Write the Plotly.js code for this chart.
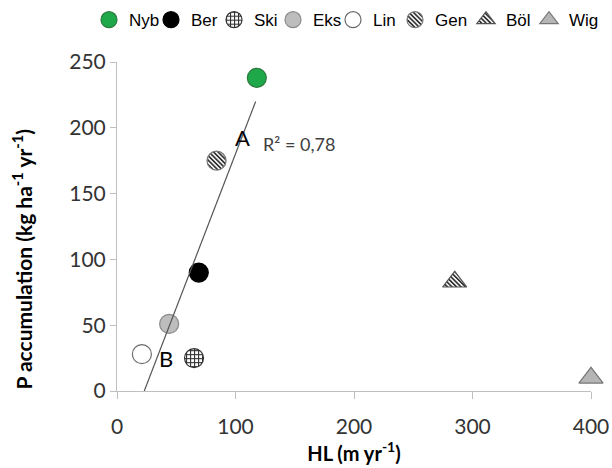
<!DOCTYPE html>
<html>
<head>
<meta charset="utf-8">
<script src="https://cdn.plot.ly/plotly-3.0.1.min.js"></script>
<style>html,body{margin:0;padding:0;background:#fff}#chart{width:612px;height:468px}</style>
</head>
<body>
<div id="chart"></div>
<script>
// Sites
var sites = ["Nyb", "Ber", "Ski", "Eks", "Lin", "Gen", "Böl", "Wig"];
// HL (m yr-1)
var hl = [118, 69, 65, 44, 21, 84, 285, 400];
// P accumulation (kg ha-1 yr-1)
var pAcc = [238, 90, 25, 51, 28, 175, 83, 10];
// Regression line (group A) endpoints
var trendX = [23, 117];
var trendY = [0, 220];
// Text labels
var labelText = ["A", "B", "C"];
var labelX = [106, 41, 411];
var labelY = [193, 25, 25];
var r2Text = "R² = 0,78";
var xTicks = [0, 100, 200, 300, 400];
var yTicks = [0, 50, 100, 150, 200, 250];

var styles = [
  {symbol: "circle", color: "#1fa84a", line: "#2b7a3d", pattern: null},
  {symbol: "circle", color: "#000000", line: "#000000", pattern: null},
  {symbol: "circle", color: "#ffffff", line: "#333333", pattern: "grid"},
  {symbol: "circle", color: "#bdbdbd", line: "#8a8a8a", pattern: null},
  {symbol: "circle", color: "#ffffff", line: "#6a6a6a", pattern: null},
  {symbol: "circle", color: "#ffffff", line: "#777777", pattern: "stripes"},
  {symbol: "triangle-up", color: "#ffffff", line: "#555555", pattern: "stripes"},
  {symbol: "triangle-up", color: "#b5b5b5", line: "#777777", pattern: null}
];

// legend entry left edges (px, layout only)
var legendLeftPx = [89, 151, 214, 273, 333, 395, 466, 529];
function legendName(i) { return i === 0 ? "legend" : "legend" + (i + 1); }

var data = sites.map(function (s, i) {
  return {
    type: "scatter", mode: "markers", name: s, legend: legendName(i),
    x: [hl[i]], y: [pAcc[i]],
    cliponaxis: false,
    marker: {symbol: styles[i].symbol, size: styles[i].symbol === "circle" ? 19 : 21,
      color: styles[i].color, line: {color: styles[i].line, width: 1.2}}
  };
});
data.push({
  type: "scatter", mode: "lines", x: trendX, y: trendY, showlegend: false,
  line: {color: "#555555", width: 1.2}, hoverinfo: "skip"
});

var annotations = labelText.map(function (t, i) {
  return {x: labelX[i], y: labelY[i], xref: "x", yref: "y", text: t, showarrow: false,
    font: {family: "Lato, sans-serif", size: 22, color: "#000"}};
});
annotations.push({x: 154, y: 188, xref: "x", yref: "y", text: r2Text, showarrow: false,
  font: {family: "Lato, sans-serif", size: 18, color: "#404040"}});
annotations.push({x: -0.2, y: 0.40, xref: "paper", yref: "paper", xanchor: "center", yanchor: "middle",
  textangle: -90, showarrow: false,
  text: "<b>P accumulation (kg ha<sup>-1</sup> yr<sup>-1</sup>)</b>",
  font: {family: "Lato, sans-serif", size: 21, color: "#000"}});

var nb = "\u00a0";
var layout = {
  width: 612, height: 468,
  margin: {l: 117, r: 21, t: 62, b: 77},
  paper_bgcolor: "#fff", plot_bgcolor: "#fff",
  showlegend: true,
  xaxis: {range: [0, 400], tickvals: xTicks, showgrid: false, zeroline: false,
    showline: true, linecolor: "#bfbfbf", linewidth: 1, ticks: "outside", ticklen: 7, tickcolor: "#bfbfbf",
    ticklabelstandoff: 10,
    tickfont: {family: "Lato, sans-serif", size: 21, color: "#333"},
    title: {text: "<b>HL (m yr<sup>-1</sup>)</b>", standoff: 8,
      font: {family: "Lato, sans-serif", size: 20, color: "#000"}}},
  yaxis: {range: [0, 250], tickvals: yTicks, showgrid: false, zeroline: false,
    showline: true, linecolor: "#bfbfbf", linewidth: 1, ticks: "outside", ticklen: 6, tickcolor: "#bfbfbf",
    ticksuffix: nb + nb + nb + nb + nb,
    tickfont: {family: "Lato, sans-serif", size: 21, color: "#333"}},
  annotations: annotations
};
sites.forEach(function (s, i) {
  layout[legendName(i)] = {orientation: "h", xref: "container", yref: "container",
    x: legendLeftPx[i] / 612, xanchor: "left", y: 0.957, yanchor: "middle", bgcolor: "rgba(0,0,0,0)",
    font: {family: "Liberation Sans, Arial, sans-serif", size: 17, color: "#000"},
    itemwidth: 30};
});

var gd = document.getElementById("chart");
Plotly.newPlot(gd, data, layout, {staticPlot: true}).then(function () {
  var NS = "http://www.w3.org/2000/svg";
  var svg = gd.querySelector("svg.main-svg");
  var defs = svg.querySelector("defs") || svg.insertBefore(document.createElementNS(NS, "defs"), svg.firstChild);
  function mk(tag, attrs, parent) {
    var el = document.createElementNS(NS, tag);
    for (var k in attrs) el.setAttribute(k, attrs[k]);
    if (parent) parent.appendChild(el);
    return el;
  }
  var p1 = mk("pattern", {id: "pat-stripes", patternUnits: "userSpaceOnUse", width: 3.2, height: 3.2,
    patternTransform: "rotate(-45)"}, defs);
  mk("rect", {x: 0, y: 0, width: 3.2, height: 3.2, fill: "#ffffff"}, p1);
  mk("rect", {x: 0, y: 0, width: 1.7, height: 3.2, fill: "#333333"}, p1);
  var p2 = mk("pattern", {id: "pat-grid", patternUnits: "userSpaceOnUse", width: 4, height: 4}, defs);
  mk("rect", {x: 0, y: 0, width: 4, height: 4, fill: "#ffffff"}, p2);
  mk("rect", {x: 0, y: 0, width: 4, height: 1.1, fill: "#333333"}, p2);
  mk("rect", {x: 0, y: 0, width: 1.1, height: 4, fill: "#333333"}, p2);

  var traces = gd.querySelectorAll(".scatterlayer .trace");
  styles.forEach(function (st, i) {
    if (!st.pattern) return;
    var url = "url(#pat-" + st.pattern + ")";
    if (traces[i]) traces[i].querySelectorAll("path.point").forEach(function (p) { p.style.fill = url; });
    var lg = gd.querySelector("g." + legendName(i));
    if (lg) lg.querySelectorAll("path.scatterpts").forEach(function (p) { p.style.fill = url; });
  });
});
</script>
</body>
</html>
